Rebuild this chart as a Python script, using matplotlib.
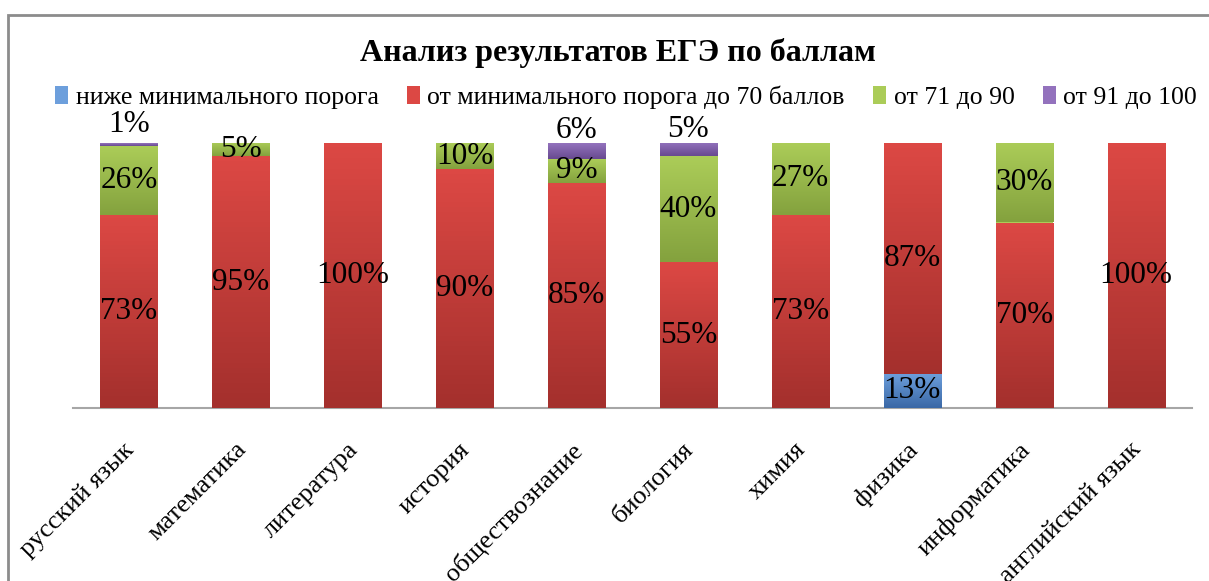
import numpy as np
import matplotlib
matplotlib.use("Agg")
import matplotlib.pyplot as plt
import matplotlib.transforms as mtransforms
from matplotlib.colors import LinearSegmentedColormap
from matplotlib.patches import Rectangle

# данные: доли учеников по предметам, %
predmety = ["русский язык", "математика", "литература", "история", "обществознание",
            "биология", "химия", "физика", "информатика", "английский язык"]
nizhe_min = [0, 0, 0, 0, 0, 0, 0, 13, 0, 0]
do_70 = [73, 95, 100, 90, 85, 55, 73, 87, 70, 100]
ot_71_90 = [26, 5, 0, 10, 9, 40, 27, 0, 30, 0]
ot_91_100 = [1, 0, 0, 0, 6, 5, 0, 0, 0, 0]

serii = ["ниже минимального порога", "от минимального порога до 70 баллов",
         "от 71 до 90", "от 91 до 100"]
znacheniya = [nizhe_min, do_70, ot_71_90, ot_91_100]

# цвета (верх, низ) для градиента, как в Excel
cveta = [("#6d9fdc", "#3a68a6"),
         ("#dc4844", "#a4302d"),
         ("#abcc58", "#84a23e"),
         ("#9372bd", "#684a90")]

plt.rcParams["font.family"] = ["Liberation Serif", "DejaVu Serif"]

fig = plt.figure(figsize=(12.09, 5.81), dpi=100)
ax = fig.add_axes([73 / 1209, 1 - 408 / 581, (1192 - 73) / 1209, (408 - 143) / 581])

x = np.arange(len(predmety))
niz = np.zeros(len(predmety))
for i, (name, vals) in enumerate(zip(serii, znacheniya)):
    vals = np.array(vals) / 100
    bars = ax.bar(x, vals, width=0.51, bottom=niz, color=cveta[i][0], label=name,
                  edgecolor="none", zorder=2)
    cmap = LinearSegmentedColormap.from_list("g%d" % i, [cveta[i][1], cveta[i][0]])
    for b, v in zip(bars, vals):
        if v <= 0:
            continue
        # градиент внутри сегмента
        g = np.linspace(0, 1, 50).reshape(-1, 1)
        im = ax.imshow(g, cmap=cmap, origin="lower", aspect="auto", zorder=3,
                       extent=[b.get_x(), b.get_x() + b.get_width(),
                               b.get_y(), b.get_y() + b.get_height()])
        im.set_clip_path(b)
        cy = b.get_y() + b.get_height() / 2
        dy = 20 if i == 3 else 0
        ax.annotate("%d%%" % round(v * 100), (b.get_x() + b.get_width() / 2, cy),
                    xytext=(0, dy), textcoords="offset pixels",
                    ha="center", va="center", fontsize=22.5, zorder=5)
    niz += vals

ax.set_xlim(-0.5, len(predmety) - 0.5)
ax.set_ylim(0, 1)
ax.set_yticks([])
for s in ["top", "right", "left"]:
    ax.spines[s].set_visible(False)
ax.spines["bottom"].set_color("#a6a6a6")
ax.spines["bottom"].set_linewidth(1.5)
ax.set_xticks(x)
ax.set_xticklabels(predmety, rotation=45, ha="right", rotation_mode="anchor", fontsize=19)
ax.tick_params(axis="x", length=0, pad=22)
sdvig = mtransforms.ScaledTranslation(-6 / 100, 0, fig.dpi_scale_trans)
for lbl in ax.get_xticklabels():
    lbl.set_transform(lbl.get_transform() + sdvig)

fig.text(618 / 1209, 1 - 53 / 581, "Анализ результатов ЕГЭ по баллам",
         ha="center", va="center", fontsize=23, fontweight="bold")

leg = fig.legend(loc="center", bbox_to_anchor=(626 / 1209, 1 - 97 / 581), ncol=4,
                 frameon=False, fontsize=18.5, handlelength=0.5, handleheight=0.7,
                 handletextpad=0.3, columnspacing=1.1, borderaxespad=0)

# рамка диаграммы
fig.patches.append(Rectangle((8 / 1209, -0.1), 1.1, 1 - 15 / 581 + 0.1,
                             transform=fig.transFigure, fill=False,
                             edgecolor="#8c8c8c", linewidth=2))

fig.savefig("out.png", dpi=100)
